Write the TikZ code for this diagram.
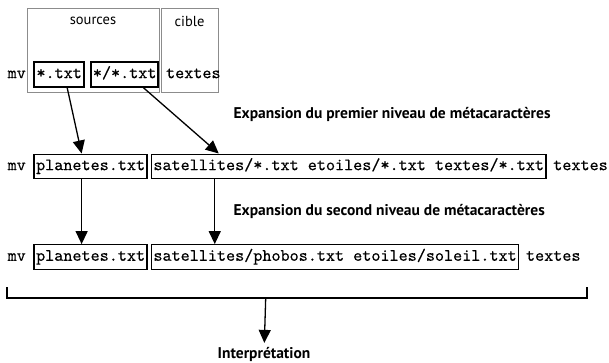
\documentclass[tikz,border=0pt]{standalone}
\usepackage{fontspec}
\setsansfont{PT Sans}
\newfontfamily\codefont{lmmono10-regular.otf}[FakeBold=0.4]
\usetikzlibrary{positioning,arrows.meta}

\tikzset{
  cmd/.style={font=\codefont\fontsize{17.3}{20}\selectfont, text height=11pt, text depth=3.5pt, inner xsep=2pt, inner ysep=5pt},
  arg/.style={cmd, draw, line width=1.3pt},
  argbold/.style={arg, line width=2pt},
  groupbox/.style={draw=black!45, line width=1pt, anchor=north west},
  grouplab/.style={font=\sffamily\fontsize{14.5}{17}\selectfont},
  stage/.style={font=\sffamily\bfseries\fontsize{15.5}{18}\selectfont},
}

\begin{document}
\begin{tikzpicture}[x=1pt,y=-1pt,>={Triangle[length=13pt,width=12pt]},line width=1.3pt]
  \useasboundingbox (0,0) rectangle (609,362);

  % ligne de commande saisie
  \node [groupbox, minimum width=132pt, minimum height=84pt](g1) at (26.5,8) {};
  \node [groupbox, minimum width=57pt, minimum height=84pt](g2) at (160.5,8) {};
  \node [grouplab](l1) [yshift=-13pt] at (g1.north) {sources};
  \node [grouplab](l2) [yshift=-13pt] at (g2.north) {cible};

  \node [cmd, anchor=west](1) at (5,74.4) {mv};
  \node [argbold](2) [right=5pt of 1] {*.txt};
  \node [argbold](3) [right=5pt of 2] {*/*.txt};
  \node [cmd](4) [right=4pt of 3] {textes};

  % premier niveau
  \node [stage, anchor=west](s1) at (229.6,114) {Expansion du premier niveau de métacaractères};
  \node [cmd, anchor=west](5) at (5,166.4) {mv};
  \node [arg](6) [right=5pt of 5] {planetes.txt};
  \node [arg](7) [right=3pt of 6] {satellites/*.txt etoiles/*.txt textes/*.txt};
  \node [cmd](8) [right=4pt of 7] {textes};

  % second niveau
  \node [stage, anchor=west](s2) at (229.6,211) {Expansion du second niveau de métacaractères};
  \node [cmd, anchor=west](9) at (5,257) {mv};
  \node [arg](10) [right=5pt of 9] {planetes.txt};
  \node [arg](11) [right=3pt of 10] {satellites/phobos.txt etoiles/soleil.txt};
  \node [cmd](12) [right=4pt of 11] {textes};

  % interpretation
  \coordinate (13) at (7,287);
  \coordinate (14) at (587,287);
  \coordinate (15) at (265.7,298);
  \node [stage](16) at (264,354) {Interprétation};
  \draw (13) -- ++(0,11) -| (14);

  \path[->]
    ([xshift=8pt]2.south) edge ([xshift=-9pt]6.north)
    ([xshift=18.7pt]3.south) edge ([xshift=68pt]7.north west)
    ([xshift=-9pt]6.south) edge ([xshift=-9pt]10.north)
    ([xshift=64pt]7.south west) edge ([xshift=64pt]11.north west)
    (15) edge (16)
  ;
\end{tikzpicture}
\end{document}
